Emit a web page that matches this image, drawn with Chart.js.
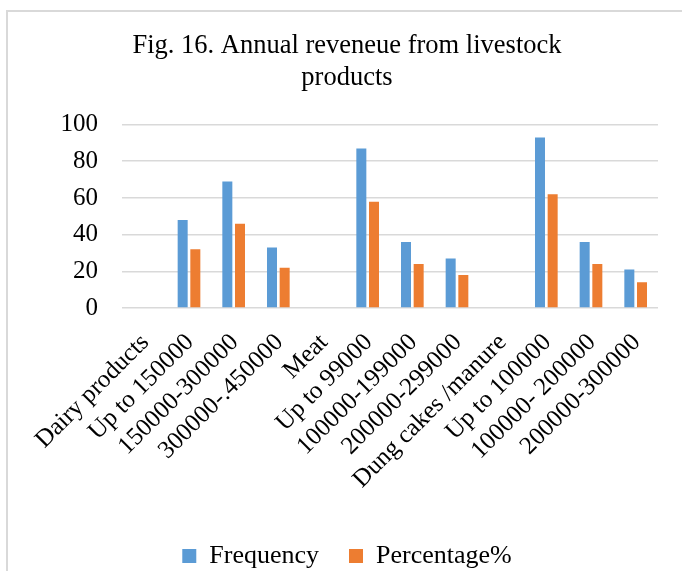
<!DOCTYPE html>
<html>
<head>
<meta charset="utf-8">
<script src="https://cdn.jsdelivr.net/npm/chart.js@4/dist/chart.umd.min.js"></script>
<style>
  html, body { margin: 0; padding: 0; background: #fff; }
  #wrap { position: relative; width: 682px; height: 571px; }
</style>
</head>
<body>
<div id="wrap"><canvas id="c" width="682" height="571"></canvas></div>
<script>
// Revenue classes for each livestock product group
const categories = [
  'Dairy products', 'Up to 150000', '150000-300000', '300000-.450000',
  'Meat', 'Up to 99000', '100000-199000', '200000-299000',
  'Dung cakes /manure', 'Up to 100000', '100000- 200000', '200000-300000'
];
// Number of respondents per class (group header rows are empty)
const frequency = [null, 48, 69, 33, null, 87, 36, 27, null, 93, 36, 21];
// Share of respondents per class, %
const percentage = [null, 32, 46, 22, null, 58, 24, 18, null, 62, 24, 14];
const yTicks = [0, 20, 40, 60, 80, 100];

const SERIF = '"Liberation Serif", "Times New Roman", serif';

// Light grey frame around the whole figure
const framePlugin = {
  id: 'frame',
  beforeDraw(chart) {
    const ctx = chart.ctx;
    ctx.save();
    ctx.fillStyle = '#ffffff';
    ctx.fillRect(0, 0, chart.width, chart.height);
    ctx.strokeStyle = '#d9d9d9';
    ctx.lineWidth = 2;
    ctx.strokeRect(7, 11, chart.width + 10, chart.height + 10);
    ctx.restore();
  }
};

new Chart(document.getElementById('c'), {
  type: 'bar',
  data: {
    labels: categories,
    datasets: [
      {
        label: 'Frequency',
        data: frequency,
        backgroundColor: '#5B9BD5',
        borderWidth: 0,
        categoryPercentage: 0.567,
        barPercentage: 0.79
      },
      {
        label: 'Percentage%',
        data: percentage,
        backgroundColor: '#ED7D31',
        borderWidth: 0,
        categoryPercentage: 0.567,
        barPercentage: 0.79
      }
    ]
  },
  options: {
    responsive: false,
    animation: false,
    devicePixelRatio: 1,
    layout: { padding: { left: 36, right: 24, top: 0, bottom: -8 } },
    plugins: {
      title: {
        display: true,
        text: ['Fig. 16. Annual reveneue from livestock', 'products'],
        color: '#000',
        font: { family: SERIF, size: 26.5, weight: 'normal', lineHeight: 1.2 },
        padding: { top: 30, bottom: 31 }
      },
      legend: {
        position: 'bottom',
        labels: {
          color: '#000',
          font: { family: SERIF, size: 26 },
          boxWidth: 14,
          boxHeight: 14,
          padding: 30
        }
      },
      tooltip: { enabled: false }
    },
    scales: {
      x: {
        grid: { display: false },
        border: { display: false },
        ticks: {
          color: '#000',
          font: { family: SERIF, size: 25 },
          autoSkip: false,
          minRotation: 45,
          maxRotation: 45,
          padding: 12,
          labelOffset: 1
        },
        afterFit(scale) {
          scale.paddingLeft = 0;
          scale.paddingRight = 0;
          scale.height = 205;
        }
      },
      y: {
        min: 0,
        max: 100,
        afterBuildTicks(scale) {
          scale.ticks = yTicks.map(v => ({ value: v }));
        },
        grid: { color: '#d9d9d9', lineWidth: 1.6, drawTicks: false },
        border: { display: false },
        ticks: {
          color: '#000',
          font: { family: SERIF, size: 25 },
          padding: 24
        },
        afterFit(scale) {
          scale.width = 86;
        }
      }
    }
  },
  plugins: [framePlugin]
});
</script>
</body>
</html>
